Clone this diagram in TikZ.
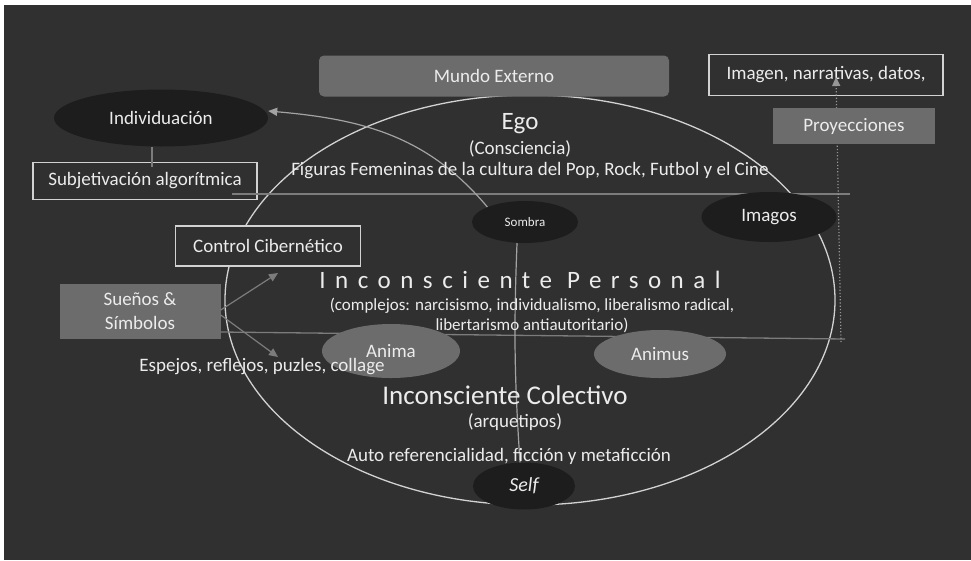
\documentclass[tikz,border=0pt]{standalone}
\usepackage{fontspec}
\setmainfont{Carlito}
\usetikzlibrary{shapes.geometric,arrows.meta}
\definecolor{bgdark}{HTML}{303030}
\definecolor{boxgray}{HTML}{6C6C6C}
\definecolor{ovalblack}{HTML}{1D1D1D}
\definecolor{txtwhite}{HTML}{ECECEC}
\definecolor{linegray}{HTML}{7C7C7C}
\definecolor{rimgray}{HTML}{D2D2D2}
\tikzset{
    txt/.style={text=txtwhite, inner sep=0pt, font=\fontsize{19}{23}\selectfont},
    graybox/.style={txt, fill=boxgray},
    framebox/.style={txt, draw=rimgray, line width=1.2pt, fill=bgdark},
    darkoval/.style={txt, ellipse, fill=ovalblack},
    grayoval/.style={txt, ellipse, fill=boxgray},
    thinline/.style={linegray, line width=1.3pt},
    tiparrow/.style={linegray, line width=1.2pt, -{Triangle[length=9pt,width=8pt]}}
}
\begin{document}
\begin{tikzpicture}[x=1pt,y=-1pt]
    \fill[white] (0,0) rectangle (971,560);
    \fill[bgdark] (4,5) rectangle (971,560);
    \useasboundingbox (0,0) rectangle (971,560);

    \draw[rimgray, line width=1.3pt] (530,300) ellipse [x radius=305pt, y radius=205pt];

    \node[graybox, rounded corners=5pt, minimum width=350pt, minimum height=41pt] (mundo) at (494,76) {Mundo Externo};
    \node[framebox, minimum width=234pt, minimum height=41pt] (imagen) at (826,75) {Imagen, narrativas, datos,};
    \node[darkoval, minimum width=214pt, minimum height=57pt] (indiv) at (161,118) {Individuación};
    \node[framebox, minimum width=224pt, minimum height=37pt] (subj) at (145,181) {Subjetivación algorítmica};
    \node[framebox, minimum width=185pt, minimum height=40pt] (ciber) at (268,246) {Control Cibernético};
    \node[graybox, align=center, minimum width=161pt, minimum height=55pt, font=\fontsize{19}{24}\selectfont] (suenos) at (140,311) {Sueños \&\\Símbolos};

    \coordinate (egoL) at (232,194);
    \coordinate (egoR) at (850,194);
    \coordinate (sombraR) at (845,339);
    \coordinate (proyB) at (841,342);
    \coordinate (proyT) at (836,77);
    \coordinate (ciberTip) at (278,273);
    \coordinate (espejoTip) at (278,357);
    \coordinate (subjTop) at ([xshift=7pt,yshift=-5pt]subj.north);

    \draw[thinline] (egoL) -- (egoR);
    \draw[thinline] ([yshift=-21pt]suenos.east) -- (sombraR);
    \draw[thinline] ([xshift=-9pt]indiv.south) -- (subjTop);
    \draw[tiparrow] ([yshift=1pt]suenos.east) -- (ciberTip);
    \draw[tiparrow] ([yshift=-4pt]suenos.east) -- (espejoTip);
    \draw[linegray!80!white, line width=1.2pt, dotted, -{Triangle[length=9pt,width=8pt]}] (proyB) -- (proyT);

    \node[graybox, minimum width=162pt, minimum height=36pt] (proy) at (854,126) {Proyecciones};

    \node[darkoval, minimum width=106pt, minimum height=42pt, font=\fontsize{13}{15}\selectfont] (sombra) at (525,222) {Sombra};
    \node[darkoval, minimum width=102pt, minimum height=47pt, font=\itshape\fontsize{20}{24}\selectfont] (self) at (524,486) {Self};

    \draw[tiparrow, linegray!70!white] (sombra.north west) to[out=130, in=-5] ([yshift=7pt]indiv.east);
    \draw[linegray!70!white, line width=1.2pt] ([xshift=-8pt]sombra.south) to[bend right=3] ([xshift=-4pt]self.north);

    \node[darkoval, minimum width=135pt, minimum height=50pt] (imagos) at (769,217) {Imagos};
    \node[grayoval, minimum width=138pt, minimum height=54pt] (anima) at (391,351) {Anima};
    \node[grayoval, minimum width=132pt, minimum height=48pt] (animus) at (660,354) {Animus};

    \node[txt, font=\fontsize{25}{29}\selectfont] (ego) at (520,124) {Ego};
    \node[txt] (consc) at (520,149) {(Consciencia)};
    \node[txt] (figuras) at (530,171) {Figuras Femeninas de la cultura del Pop, Rock, Futbol y el Cine};
    \node[txt, font=\fontsize{25}{29}\selectfont\addfontfeature{LetterSpace=38}] (personal) at (520,280) {Inconsciente Personal};
    \node[txt, align=center, font=\fontsize{17}{20}\selectfont] (complejos) at (532,315) {(complejos: narcisismo, individualismo, liberalismo radical,\\libertarismo antiautoritario)};
    \node[txt] (espejos) at (262,367) {Espejos, reflejos, puzles, collage};
    \node[txt, font=\fontsize{27}{31}\selectfont] (colectivo) at (505,395) {Inconsciente Colectivo};
    \node[txt] (arquetipos) at (515,422) {(arquetipos)};
    \node[txt] (auto) at (509,456) {Auto referencialidad, ficción y metaficción};
\end{tikzpicture}
\end{document}
